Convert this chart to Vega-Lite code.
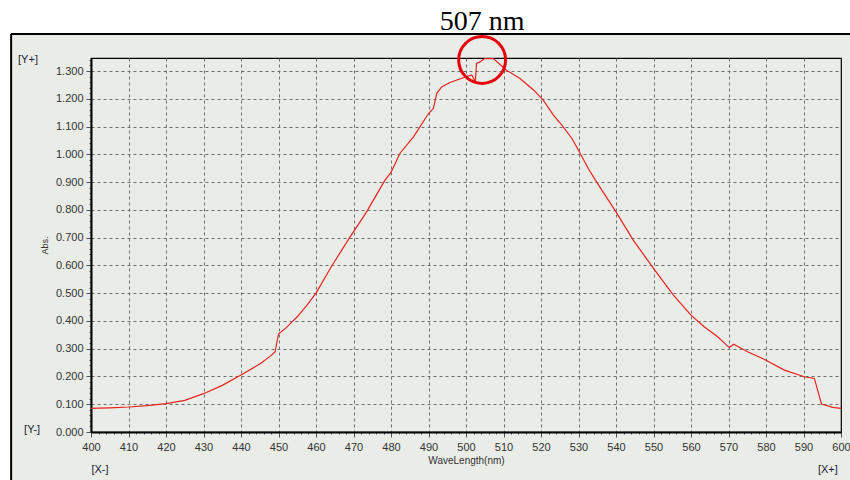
{
  "$schema": "https://vega.github.io/schema/vega-lite/v6.json",
  "width": 750,
  "height": 374,
  "autosize": {"type": "none"},
  "padding": {"left": 91, "top": 58, "right": 9, "bottom": 48},
  "background": "#e9ece7",
  "config": {
    "view": {"stroke": "black", "strokeWidth": 1.2}
  },
  "datasets": {
    "spectrum": [
      {"wl": 400, "abs": 0.085}, {"wl": 402, "abs": 0.086}, {"wl": 405, "abs": 0.087},
      {"wl": 410, "abs": 0.090}, {"wl": 415, "abs": 0.095}, {"wl": 420, "abs": 0.102},
      {"wl": 425, "abs": 0.114}, {"wl": 430, "abs": 0.138}, {"wl": 435, "abs": 0.168},
      {"wl": 440, "abs": 0.205}, {"wl": 445, "abs": 0.245}, {"wl": 448, "abs": 0.275},
      {"wl": 449.1, "abs": 0.289}, {"wl": 450, "abs": 0.353}, {"wl": 452, "abs": 0.375},
      {"wl": 455, "abs": 0.415}, {"wl": 457.5, "abs": 0.455}, {"wl": 460, "abs": 0.500},
      {"wl": 464.2, "abs": 0.598}, {"wl": 469.1, "abs": 0.703}, {"wl": 473.5, "abs": 0.793},
      {"wl": 475.3, "abs": 0.835}, {"wl": 478.4, "abs": 0.907}, {"wl": 480, "abs": 0.935},
      {"wl": 482.4, "abs": 1.004}, {"wl": 486, "abs": 1.063}, {"wl": 490, "abs": 1.147},
      {"wl": 491.3, "abs": 1.165}, {"wl": 492.2, "abs": 1.220}, {"wl": 493.5, "abs": 1.243},
      {"wl": 495.7, "abs": 1.259}, {"wl": 499.3, "abs": 1.276}, {"wl": 501.5, "abs": 1.286},
      {"wl": 502.5, "abs": 1.262}, {"wl": 502.8, "abs": 1.327}, {"wl": 503.7, "abs": 1.333},
      {"wl": 505, "abs": 1.345}, {"wl": 507.3, "abs": 1.345}, {"wl": 510.8, "abs": 1.303},
      {"wl": 514.4, "abs": 1.273}, {"wl": 518, "abs": 1.232}, {"wl": 520.6, "abs": 1.195},
      {"wl": 523.3, "abs": 1.141}, {"wl": 525.5, "abs": 1.106}, {"wl": 528.2, "abs": 1.058},
      {"wl": 530, "abs": 1.015}, {"wl": 532.6, "abs": 0.949}, {"wl": 534.8, "abs": 0.901},
      {"wl": 540, "abs": 0.793}, {"wl": 544.6, "abs": 0.691}, {"wl": 550, "abs": 0.589},
      {"wl": 555.3, "abs": 0.493}, {"wl": 560, "abs": 0.421}, {"wl": 563.5, "abs": 0.379},
      {"wl": 567.1, "abs": 0.343}, {"wl": 570.2, "abs": 0.304}, {"wl": 571.4, "abs": 0.316},
      {"wl": 575.1, "abs": 0.289}, {"wl": 579.5, "abs": 0.262}, {"wl": 584.9, "abs": 0.223},
      {"wl": 590.2, "abs": 0.199}, {"wl": 592.9, "abs": 0.193}, {"wl": 594.8, "abs": 0.101},
      {"wl": 597.8, "abs": 0.089}, {"wl": 600, "abs": 0.085}
    ],
    "whiteBands": [
      {"x1": 370, "x2": 610, "y1": 1.433, "y2": 1.8},
      {"x1": 370, "x2": 378.7, "y1": -0.3, "y2": 1.8}
    ],
    "frameLines": [
      {"x1": 378.7, "x2": 603, "y1": 1.433, "y2": 1.433},
      {"x1": 378.7, "x2": 378.7, "y1": 1.433, "y2": -0.3}
    ],
    "peak": [{"wl": 504.3, "abs": 1.34, "label": "507 nm", "labelAbs": 1.476}],
    "corners": [
      {"wl": 383.2, "abs": 1.34, "text": "[Y+]"},
      {"wl": 384.3, "abs": 0.007, "text": "[Y-]"},
      {"wl": 402.4, "abs": -0.137, "text": "[X-]"},
      {"wl": 596.5, "abs": -0.137, "text": "[X+]"}
    ]
  },
  "layer": [
    {
      "data": {"name": "spectrum"},
      "mark": {"type": "line", "color": "#e8231e", "strokeWidth": 1.2},
      "encoding": {
        "x": {
          "field": "wl", "type": "quantitative",
          "scale": {"domain": [400, 600], "nice": false, "zero": false},
          "axis": {
            "title": "WaveLength(nm)",
            "titleFont": "Liberation Sans", "titleFontSize": 10, "titleFontWeight": "normal", "titleColor": "#333",
            "titlePadding": 3,
            "tickCount": 300,
            "values": [400,402,404,406,408,410,412,414,416,418,420,422,424,426,428,430,432,434,436,438,440,442,444,446,448,450,452,454,456,458,460,462,464,466,468,470,472,474,476,478,480,482,484,486,488,490,492,494,496,498,500,502,504,506,508,510,512,514,516,518,520,522,524,526,528,530,532,534,536,538,540,542,544,546,548,550,552,554,556,558,560,562,564,566,568,570,572,574,576,578,580,582,584,586,588,590,592,594,596,598,600],
            "labelExpr": "datum.value % 10 == 0 ? format(datum.value, 'd') : ''",
            "labelFont": "Liberation Sans", "labelFontSize": 11, "labelColor": "#333",
            "labelPadding": 4, "labelFlush": false, "labelOverlap": false,
            "domainColor": "black", "domainWidth": 2,
            "tickColor": "#555",
            "tickSize": {"condition": {"test": "datum.value % 10 == 0", "value": 5}, "value": 2},
            "grid": true,
            "gridColor": "#6e6e6e", "gridDash": [3, 3], "gridWidth": 1,
            "gridOpacity": {"condition": {"test": "datum.value % 10 == 0 && datum.value > 400 && datum.value < 600", "value": 1}, "value": 0}
          }
        },
        "y": {
          "field": "abs", "type": "quantitative",
          "scale": {"domain": [0, 1.347], "nice": false},
          "axis": {
            "title": "Abs.",
            "titleFont": "Liberation Sans", "titleFontSize": 9, "titleFontWeight": "normal", "titleColor": "#333",
            "titlePadding": 6,
            "tickCount": 300,
            "values": [0,0.02,0.04,0.06,0.08,0.1,0.12,0.14,0.16,0.18,0.2,0.22,0.24,0.26,0.28,0.3,0.32,0.34,0.36,0.38,0.4,0.42,0.44,0.46,0.48,0.5,0.52,0.54,0.56,0.58,0.6,0.62,0.64,0.66,0.68,0.7,0.72,0.74,0.76,0.78,0.8,0.82,0.84,0.86,0.88,0.9,0.92,0.94,0.96,0.98,1.0,1.02,1.04,1.06,1.08,1.1,1.12,1.14,1.16,1.18,1.2,1.22,1.24,1.26,1.28,1.3,1.32,1.34],
            "labelExpr": "abs(datum.value*10 - round(datum.value*10)) < 0.001 ? format(datum.value, '.3f') : ''",
            "labelFont": "Liberation Sans", "labelFontSize": 11, "labelColor": "#333",
            "labelPadding": 3, "labelFlush": false, "labelOverlap": false,
            "domainColor": "black", "domainWidth": 2,
            "tickColor": "#555",
            "tickSize": {"condition": {"test": "abs(datum.value*10 - round(datum.value*10)) < 0.001", "value": 5}, "value": 2},
            "grid": true,
            "gridColor": "#6e6e6e", "gridDash": [3, 3], "gridWidth": 1,
            "gridOpacity": {"condition": {"test": "abs(datum.value*10 - round(datum.value*10)) < 0.001 && datum.value > 0.05", "value": 1}, "value": 0}
          }
        }
      }
    },
    {
      "data": {"name": "whiteBands"},
      "mark": {"type": "rect", "fill": "white"},
      "encoding": {
        "x": {"field": "x1", "type": "quantitative", "scale": {"domain": [400, 600], "nice": false, "zero": false}},
        "x2": {"field": "x2"},
        "y": {"field": "y1", "type": "quantitative", "scale": {"domain": [0, 1.347], "nice": false}},
        "y2": {"field": "y2"}
      }
    },
    {
      "data": {"name": "frameLines"},
      "mark": {"type": "rule", "color": "black", "strokeWidth": 2},
      "encoding": {
        "x": {"field": "x1", "type": "quantitative", "scale": {"domain": [400, 600], "nice": false, "zero": false}},
        "x2": {"field": "x2"},
        "y": {"field": "y1", "type": "quantitative", "scale": {"domain": [0, 1.347], "nice": false}},
        "y2": {"field": "y2"}
      }
    },
    {
      "data": {"name": "peak"},
      "mark": {"type": "point", "shape": "circle", "filled": false, "stroke": "#e8000b", "strokeWidth": 3, "size": 2200, "opacity": 1},
      "encoding": {
        "x": {"field": "wl", "type": "quantitative", "scale": {"domain": [400, 600], "nice": false, "zero": false}},
        "y": {"field": "abs", "type": "quantitative", "scale": {"domain": [0, 1.347], "nice": false}}
      }
    },
    {
      "data": {"name": "peak"},
      "mark": {"type": "text", "font": "Liberation Serif", "fontSize": 28, "color": "black", "baseline": "middle", "align": "center"},
      "encoding": {
        "x": {"field": "wl", "type": "quantitative", "scale": {"domain": [400, 600], "nice": false, "zero": false}},
        "y": {"field": "labelAbs", "type": "quantitative", "scale": {"domain": [0, 1.347], "nice": false}},
        "text": {"field": "label"}
      }
    },
    {
      "data": {"name": "corners"},
      "mark": {"type": "text", "font": "Liberation Sans", "fontSize": 11, "color": "#223", "baseline": "middle", "align": "center"},
      "encoding": {
        "x": {"field": "wl", "type": "quantitative", "scale": {"domain": [400, 600], "nice": false, "zero": false}},
        "y": {"field": "abs", "type": "quantitative", "scale": {"domain": [0, 1.347], "nice": false}},
        "text": {"field": "text"}
      }
    }
  ]
}
